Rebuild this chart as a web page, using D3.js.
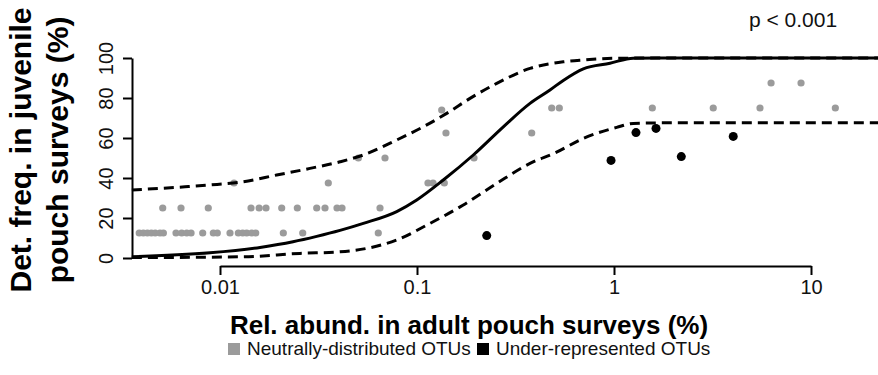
<!DOCTYPE html>
<html>
<head>
<meta charset="utf-8">
<script src="https://cdn.jsdelivr.net/npm/d3@7"></script>
<style>
  html, body { margin: 0; padding: 0; background: #fff; }
  svg { display: block; font-family: "Liberation Sans", Arial, Helvetica, sans-serif; }
</style>
</head>
<body>
<svg id="chart" width="878" height="375"></svg>
<script>
// Neutral model fit: detection frequency vs. relative abundance
const xTicks = [0.01, 0.1, 1, 10];
const xTickLabels = ["0.01", "0.1", "1", "10"];
const yTicks = [0, 20, 40, 60, 80, 100];

// Neutrally-distributed OTUs (abundance %, detection frequency %)
const neutralAbund = [
  0.00389, 0.00408, 0.00428, 0.00448, 0.00469, 0.00496, 0.00516, 0.00598, 0.00639, 0.00678,
  0.00713, 0.00817, 0.00925, 0.00969, 0.01124, 0.01239, 0.01304, 0.01366, 0.01449, 0.01518,
  0.02096, 0.02630, 0.0636,
  0.00512, 0.00634, 0.00872, 0.01437, 0.01580, 0.01712, 0.02057, 0.02469, 0.03097, 0.03412,
  0.03926, 0.04162, 0.0649,
  0.01178, 0.03546, 0.1137, 0.1206, 0.1376,
  0.0504, 0.0688, 0.1947,
  0.1403, 0.3822,
  0.1335, 0.4829, 0.5277, 1.565, 3.19, 5.51, 13.29,
  6.27, 8.90
];
const neutralFreq = [
  12.5, 12.5, 12.5, 12.5, 12.5, 12.5, 12.5, 12.5, 12.5, 12.5,
  12.5, 12.5, 12.5, 12.5, 12.5, 12.5, 12.5, 12.5, 12.5, 12.5,
  12.5, 12.5, 12.5,
  25, 25, 25, 25, 25, 25, 25, 25, 25, 25,
  25, 25, 25,
  37.5, 37.5, 37.5, 37.5, 37.5,
  50, 50, 50,
  62.5, 62.5,
  74, 75, 75, 75, 75, 75, 75,
  87.5, 87.5
];

// Under-represented OTUs
const underAbund = [0.2259, 0.966, 1.293, 1.634, 2.196, 4.03];
const underFreq = [11.2, 48.8, 62.7, 64.8, 50.7, 60.8];

// Model prediction
const predAbund = [0.00357, 0.00889, 0.01596, 0.02347, 0.03097, 0.04066, 0.0534, 0.0789, 0.0997,
  0.136, 0.1931, 0.2743, 0.3747, 0.4733, 0.5528, 0.6986, 0.9544, 1.253, 2, 5, 22];
const predFreq = [0.6, 2.6, 5.3, 8.1, 10.8, 13.8, 17.3, 23.2, 29,
  39, 51.5, 65.6, 77.3, 84, 88.8, 94.6, 97.4, 99.9, 100, 100, 100];

// Upper confidence bound
const upperAbund = [0.00357, 0.00664, 0.00889, 0.01313, 0.0194, 0.02863, 0.04066, 0.0534, 0.0789,
  0.1076, 0.1415, 0.1858, 0.2539, 0.3747, 0.5528, 0.6986, 1.032, 2, 5, 22];
const upperFreq = [34, 35.6, 36.5, 38.1, 41.5, 44.8, 48.1, 51.5, 59,
  65.6, 72.3, 79.8, 87.3, 94.8, 98.1, 99, 99.9, 100, 100, 100];

// Lower confidence bound
const lowerAbund = [0.00357, 0.01309, 0.02548, 0.04066, 0.0555, 0.0789, 0.1164, 0.1718, 0.2539,
  0.3747, 0.5017, 0.6986, 1.032, 1.253, 2, 5, 22];
const lowerFreq = [0.2, 0.6, 2.3, 3.1, 4.8, 9, 17.3, 26.5, 37.3,
  47.3, 52.5, 59.8, 65.3, 67.3, 67.6, 67.6, 67.6];

const svg = d3.select("#chart");

const x = d3.scaleLog().domain([0.01, 10]).range([220, 811]);
const y = d3.scaleLinear().domain([0, 100]).range([258, 58]);
const axisX = 132;      // position of the y axis
const axisY = 266;      // position of the x axis

// Fitted curves
const line = d3.line()
  .x(d => x(d[0]))
  .y(d => y(d[1]))
  .curve(d3.curveMonotoneX);

const curves = [
  { a: upperAbund, f: upperFreq, dash: "10,6" },
  { a: lowerAbund, f: lowerFreq, dash: "10,6" },
  { a: predAbund, f: predFreq, dash: null }
];

// Points
svg.append("g").selectAll("circle")
  .data(d3.zip(neutralAbund, neutralFreq))
  .join("circle")
  .attr("cx", d => x(d[0]))
  .attr("cy", d => y(d[1]))
  .attr("r", 3.6)
  .attr("fill", "#9b9b9b");

curves.forEach(c => {
  svg.append("path")
    .attr("d", line(d3.zip(c.a, c.f)))
    .attr("fill", "none")
    .attr("stroke", "#000")
    .attr("stroke-width", 3)
    .attr("stroke-dasharray", c.dash);
});

svg.append("g").selectAll("circle")
  .data(d3.zip(underAbund, underFreq))
  .join("circle")
  .attr("cx", d => x(d[0]))
  .attr("cy", d => y(d[1]))
  .attr("r", 4.5)
  .attr("fill", "#000");

// X axis
const gx = svg.append("g")
  .attr("transform", `translate(0,${axisY})`)
  .call(d3.axisBottom(x).tickValues(xTicks).tickFormat((d, i) => xTickLabels[i])
    .tickSize(9).tickSizeOuter(0).tickPadding(5));
gx.select(".domain").attr("stroke-width", 2);
gx.selectAll(".tick line").attr("stroke-width", 2);
gx.selectAll(".tick text").attr("font-size", 20).attr("fill", "#111")
  .attr("font-family", "Liberation Sans, Arial, sans-serif");

// Y axis with labels parallel to the axis
const gy = svg.append("g")
  .attr("transform", `translate(${axisX},0)`)
  .call(d3.axisLeft(y).tickValues(yTicks).tickSize(9).tickSizeOuter(0).tickPadding(5));
gy.select(".domain").attr("stroke-width", 2);
gy.selectAll(".tick line").attr("stroke-width", 2);
gy.selectAll(".tick text")
  .attr("font-size", 20).attr("fill", "#111")
  .attr("font-family", "Liberation Sans, Arial, sans-serif")
  .attr("x", null).attr("dy", null)
  .attr("text-anchor", "middle")
  .attr("transform", "translate(-19,0) rotate(-90)");

// Axis titles
svg.append("text")
  .attr("x", 469).attr("y", 334)
  .attr("text-anchor", "middle")
  .attr("font-size", 26).attr("font-weight", "bold")
  .text("Rel. abund. in adult pouch surveys (%)");

const yTitle = svg.append("g").attr("transform", "translate(0,150) rotate(-90)");
yTitle.append("text").attr("x", 0).attr("y", 31)
  .attr("text-anchor", "middle").attr("font-size", 30).attr("font-weight", "bold")
  .text("Det. freq. in juvenile");
yTitle.append("text").attr("x", 0).attr("y", 68)
  .attr("text-anchor", "middle").attr("font-size", 30).attr("font-weight", "bold")
  .text("pouch surveys (%)");

// Significance
svg.append("text")
  .attr("x", 793).attr("y", 27)
  .attr("text-anchor", "middle")
  .attr("font-size", 21).attr("fill", "#111")
  .text("p < 0.001");

// Legend
const legend = [
  { label: "Neutrally-distributed OTUs", color: "#9b9b9b", x: 228 },
  { label: "Under-represented OTUs", color: "#000", x: 477 }
];
const lg = svg.append("g");
legend.forEach(l => {
  lg.append("rect").attr("x", l.x).attr("y", 343).attr("width", 12).attr("height", 12).attr("fill", l.color);
  lg.append("text").attr("x", l.x + 19).attr("y", 355)
    .attr("font-size", 19).attr("fill", "#111").text(l.label);
});
</script>
</body>
</html>
